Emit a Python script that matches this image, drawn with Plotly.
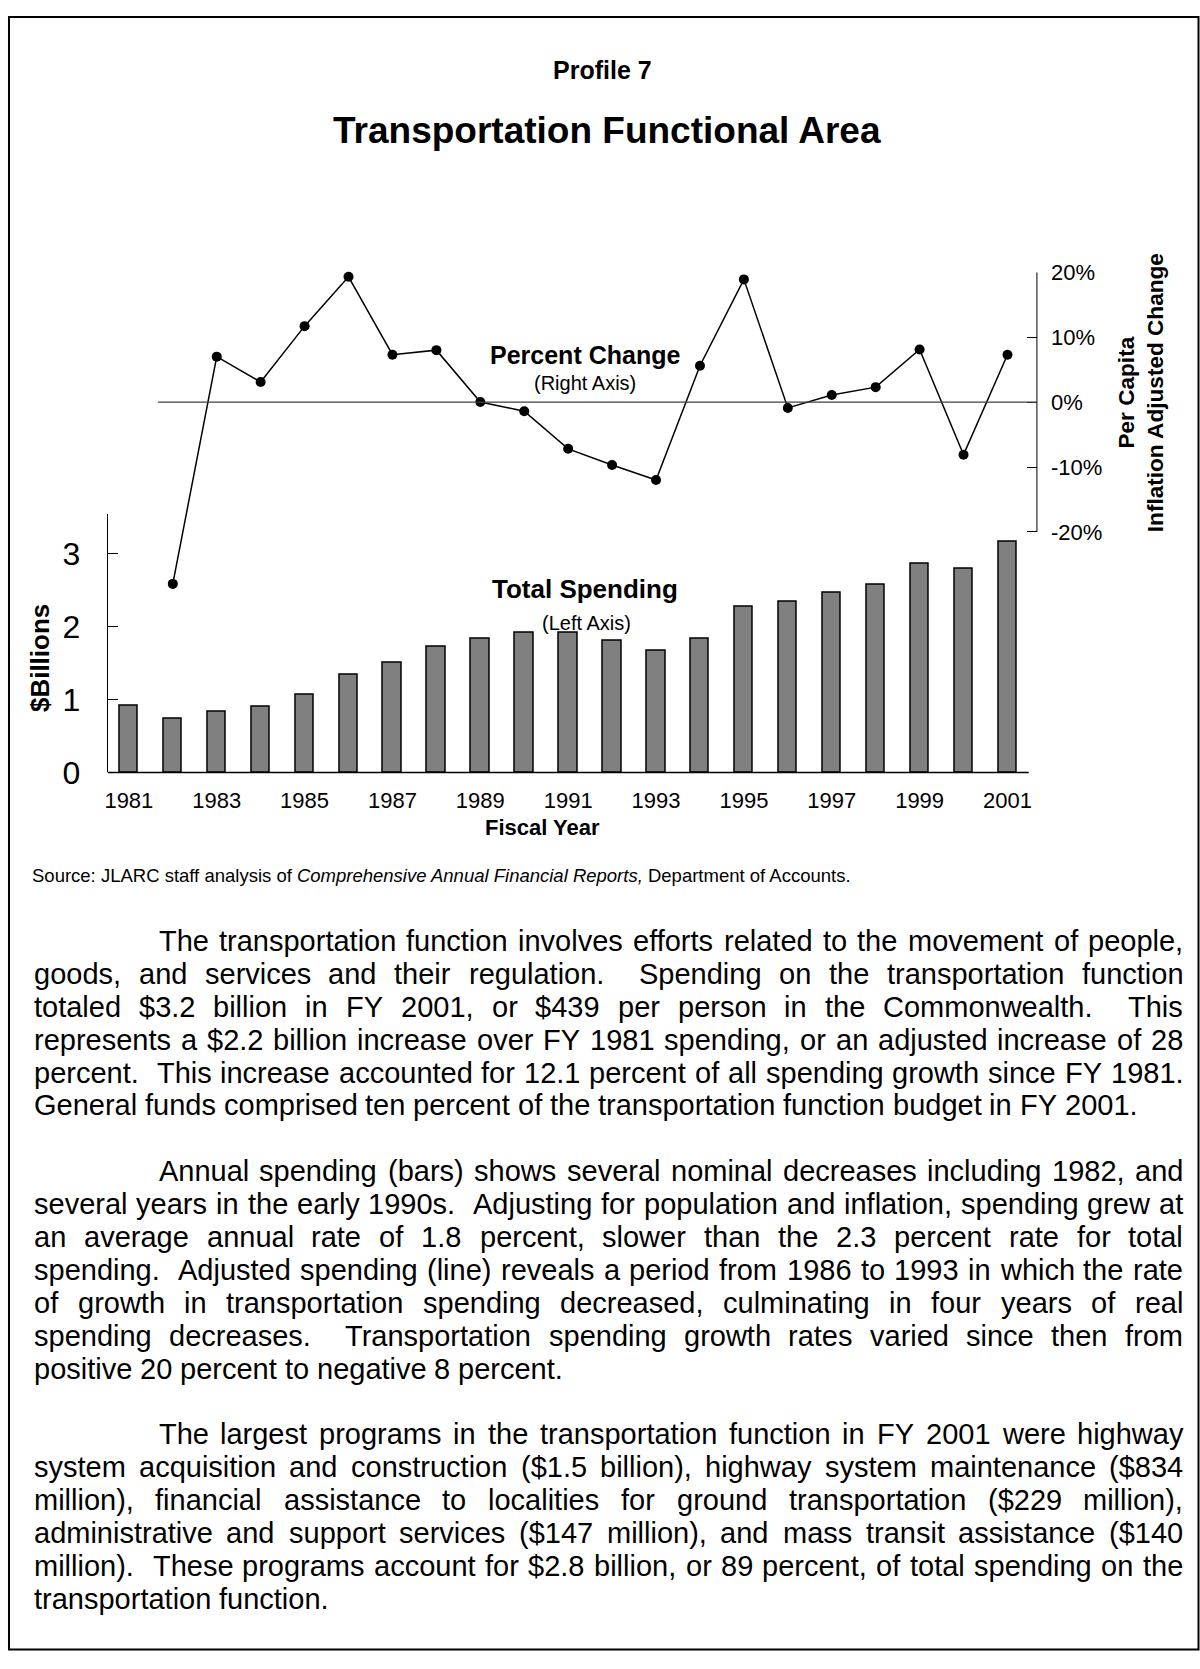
import re
import plotly.graph_objects as go

W, H = 1200, 1669
FONT = "Liberation Sans, Arial, sans-serif"

# chart data
years = list(range(1981, 2002))
spending_bn = [0.92, 0.73, 0.83, 0.90, 1.07, 1.34, 1.50, 1.72, 1.83, 1.92, 1.91,
               1.81, 1.67, 1.84, 2.27, 2.34, 2.46, 2.57, 2.87, 2.80, 3.16]
change_years = years[1:]
pct_change = [-28.0, 7.0, 3.1, 11.7, 19.3, 7.3, 8.0, 0.0, -1.4, -7.2, -9.7,
              -12.0, 5.6, 18.9, -0.9, 1.1, 2.3, 8.1, -8.1, 7.3]
year_ticks = list(range(1981, 2002, 2))
left_ticks = [0, 1, 2, 3]
right_ticks = [-20, -10, 0, 10, 20]
right_tick_text = ["-20%", "-10%", "0%", "10%", "20%"]

# body text, one entry per printed line
para1 = [
    "The transportation function involves efforts related to the movement of people,",
    "goods, and services and their regulation.  Spending on the transportation function",
    "totaled $3.2 billion in FY 2001, or $439 per person in the Commonwealth.  This",
    "represents a $2.2 billion increase over FY 1981 spending, or an adjusted increase of 28",
    "percent.  This increase accounted for 12.1 percent of all spending growth since FY 1981.",
    "General funds comprised ten percent of the transportation function budget in FY 2001.",
]
para2 = [
    "Annual spending (bars) shows several nominal decreases including 1982, and",
    "several years in the early 1990s.  Adjusting for population and inflation, spending grew at",
    "an average annual rate of 1.8 percent, slower than the 2.3 percent rate for total",
    "spending.  Adjusted spending (line) reveals a period from 1986 to 1993 in which the rate",
    "of growth in transportation spending decreased, culminating in four years of real",
    "spending decreases.  Transportation spending growth rates varied since then from",
    "positive 20 percent to negative 8 percent.",
]
para3 = [
    "The largest programs in the transportation function in FY 2001 were highway",
    "system acquisition and construction ($1.5 billion), highway system maintenance ($834",
    "million), financial assistance to localities for ground transportation ($229 million),",
    "administrative and support services ($147 million), and mass transit assistance ($140",
    "million).  These programs account for $2.8 billion, or 89 percent, of total spending on the",
    "transportation function.",
]

# Arial / Liberation Sans advance widths (per 1000 em)
ADV = {" ": 278, "!": 278, "$": 556, "%": 889, "(": 333, ")": 333, ",": 278,
       "-": 333, ".": 278, ":": 278, "A": 667, "C": 722, "F": 611, "G": 778,
       "J": 500, "L": 556, "R": 722, "S": 667, "T": 611, "Y": 667,
       "a": 556, "b": 556, "c": 500, "d": 556, "e": 556, "f": 278, "g": 556,
       "h": 556, "i": 222, "j": 222, "k": 500, "l": 222, "m": 833, "n": 556,
       "o": 556, "p": 556, "q": 556, "r": 333, "s": 500, "t": 278, "u": 556,
       "v": 500, "w": 722, "x": 500, "y": 500, "z": 500}


def text_w(s, size):
    return sum(ADV.get(c, 556) for c in s) * size / 1000.0


def px(x):
    return x / W


def py(y):
    return 1 - y / H


def label(fig, text, x, y, size, bold=False, angle=0, xanchor="center"):
    if bold:
        text = "<b>" + text.replace("<br>", "</b><br><b>") + "</b>"
    fig.add_annotation(text=text, x=px(x), y=py(y), xref="paper", yref="paper",
                       xanchor=xanchor, yanchor="middle", showarrow=False,
                       textangle=angle, borderpad=0, borderwidth=0,
                       font=dict(family=FONT, size=size, color="black"))


def add_line(fig, line, y, x_left, x_right, justify, size):
    parts = [p for p in re.split(r"( +)", line) if p]
    space_w = text_w(" ", size)
    n_sp = sum(len(p) for p in parts if p.startswith(" "))
    natural = sum(text_w(p, size) for p in parts if not p.startswith(" ")) + n_sp * space_w
    extra = (x_right - x_left - natural) / n_sp if (justify and n_sp) else 0
    x = x_left
    for p in parts:
        if p.startswith(" "):
            x += len(p) * (space_w + extra)
        else:
            fig.add_annotation(text=p, x=px(x), y=py(y), xref="paper", yref="paper",
                               xanchor="left", yanchor="middle", showarrow=False,
                               borderpad=0, borderwidth=0,
                               font=dict(family=FONT, size=size, color="black"))
            x += text_w(p, size)


fig = go.Figure()

fig.add_trace(go.Bar(x=years, y=spending_bn, width=0.42, xaxis="x", yaxis="y",
                     marker=dict(color="#808080", line=dict(color="black", width=1.5))))
fig.add_trace(go.Scatter(x=change_years, y=pct_change, xaxis="x", yaxis="y2",
                         mode="lines+markers", cliponaxis=False,
                         line=dict(color="black", width=1.5),
                         marker=dict(color="black", size=10)))

x_lo, x_hi = 1980.519, 2001.67
fig.update_layout(
    width=W, height=H, margin=dict(l=0, r=0, t=0, b=0),
    paper_bgcolor="white", plot_bgcolor="rgba(0,0,0,0)",
    showlegend=False, bargap=0,
    xaxis=dict(domain=[px(105), px(1036.5)], range=[x_lo, x_hi], anchor="y",
               tickvals=year_ticks, ticks="", showline=False, showgrid=False,
               zeroline=False, ticklabelstandoff=13,
               tickfont=dict(family=FONT, size=22, color="black")),
    yaxis=dict(domain=[py(774.3), py(511)], range=[0, 3.55], anchor="x",
               tickvals=left_ticks, ticks="inside", ticklen=10, tickcolor="black",
               showline=True, linecolor="black", linewidth=1, showgrid=False,
               zeroline=False, ticklabelstandoff=20,
               tickfont=dict(family=FONT, size=32, color="black")),
    yaxis2=dict(domain=[py(608.8), py(265)], range=[-32, 20], anchor="x", side="right",
                tickvals=right_ticks, ticktext=right_tick_text, ticks="inside",
                ticklen=10, tickcolor="black", showline=False, showgrid=False,
                zeroline=False, ticklabelstandoff=13,
                tickfont=dict(family=FONT, size=22, color="black")),
)

# axis lines and zero reference
fig.add_shape(type="line", xref="paper", yref="paper", x0=px(105), x1=px(1028.3),
              y0=py(774.3), y1=py(774.3), line=dict(color="black", width=1.5))
fig.add_shape(type="line", xref="paper", yref="y2", x0=px(1036.5), x1=px(1036.5),
              y0=-20, y1=20, line=dict(color="black", width=1))
fig.add_shape(type="line", xref="x", yref="y2", x0=1981.665, x1=x_hi, y0=0, y1=0,
              line=dict(color="#404040", width=1.3))

# page frame
fig.add_shape(type="rect", xref="paper", yref="paper", x0=px(6), x1=px(1198.5),
              y0=py(5), y1=py(1667.5), line=dict(color="black", width=2))

# titles and chart labels
label(fig, "Profile 7", 601, 59, 25, bold=True)
label(fig, "Transportation Functional Area", 606, 121, 37, bold=True)
label(fig, "Percent Change", 583, 349, 25, bold=True)
label(fig, "(Right Axis)", 583, 378, 20)
label(fig, "Total Spending", 583, 588, 26, bold=True)
label(fig, "(Left Axis)", 585, 622, 20)
label(fig, "$Billions", 37, 658, 26, bold=True, angle=-90)
label(fig, "Fiscal Year", 541, 830, 22, bold=True)
label(fig, "Per Capita<br>Inflation Adjusted Change", 1141, 388, 22.6, bold=True, angle=-90)
label(fig, "Source: JLARC staff analysis of <i>Comprehensive Annual Financial Reports,</i> "
           "Department of Accounts.", 29, 879, 18.5, xanchor="left")

# body paragraphs, justified
BODY = 29
LEFT, RIGHT, INDENT = 31, 1183, 156
TOP, STEP = 946, 33.5
row = 0
for para in (para1, para2, para3):
    for i, line in enumerate(para):
        last = i == len(para) - 1
        add_line(fig, line, TOP + row * STEP, INDENT if i == 0 else LEFT, RIGHT,
                 not last, BODY)
        row += 1
    row += 1

# figure fills the window exactly: no page margin, no scrollbars, no modebar
fig.write_html("out.html", config={"displayModeBar": False},
               post_script="document.documentElement.style.overflow='hidden';"
                           "document.body.style.margin='0';"
                           "document.body.style.overflow='hidden';")
